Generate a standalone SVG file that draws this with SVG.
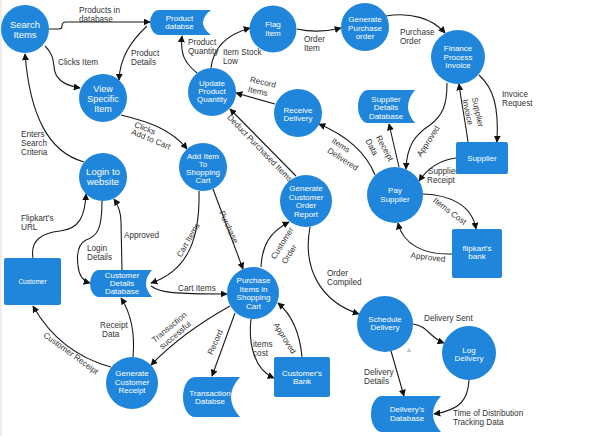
<svg xmlns="http://www.w3.org/2000/svg" width="596" height="436" viewBox="0 0 596 436">
<defs>
<style>
.n{fill:#1f86dc}
.t{font-family:'Liberation Sans',Arial,sans-serif;fill:#fff;text-anchor:middle;font-size:8px}
.l{font-family:'Liberation Sans',Arial,sans-serif;fill:#333;font-size:8.2px}
.c{text-anchor:middle}
.e{fill:none;stroke:#1a1a1a;stroke-width:1.1;marker-end:url(#a)}
</style>
<marker id="a" viewBox="0 0 10 10" refX="9" refY="5" markerWidth="7" markerHeight="7" markerUnits="userSpaceOnUse" orient="auto"><path d="M0,0 L10,5 L0,10 z" fill="#111"/></marker>
</defs>
<rect width="596" height="436" fill="#fff"/>
<line x1="1" y1="0" x2="1" y2="436" stroke="#dcdcdc"/>

<g id="connectors">
<path class="e" d="M49,29 L59,29 Q62,29 62,26 Q62,22 66,22 L150,22"/>
<path class="e" d="M147,26 C130,42 120,58 119,80"/>
<path class="e" d="M45,46 C55,55 53,65 55,72 C58,82 68,86 80,88"/>
<path class="e" d="M84,162 C48,152 30,115 25,54"/>
<path class="e" d="M121,115 C150,122 172,130 187,149"/>
<path class="e" d="M197,73 C185,63 180,55 182,36"/>
<path class="e" d="M211,68 C213,50 225,35 250,28"/>
<path class="e" d="M297,29 C310,32 325,32 341,28"/>
<path class="e" d="M386,16 C410,12 432,18 445,33"/>
<path class="e" d="M447,83 C447,105 443,115 430,125 C415,135 407,145 406,169"/>
<path class="e" d="M468,142 C465,120 461,100 459,84"/>
<path class="e" d="M479,75 C493,88 499,105 497,142"/>
<path class="e" d="M456,158 C440,160 428,168 419,181"/>
<path class="e" d="M423,194 C450,195 472,205 476,229"/>
<path class="e" d="M452,254 C425,255 403,245 398,223"/>
<path class="e" d="M399,167 L389,124"/>
<path class="e" d="M375,175 C365,150 345,135 319,124"/>
<path class="e" d="M275,104 L236,93"/>
<path class="e" d="M296,176 L230,109"/>
<path class="e" d="M199,191 C200,235 190,270 151,283"/>
<path class="e" d="M213,189 L243,269"/>
<path class="e" d="M151,286 C160,293 175,294 227,294"/>
<path class="e" d="M33,258 C30,240 42,233 60,231 C80,229 85,215 86,194"/>
<path class="e" d="M102,201 C102,228 98,236 86,240 C76,245 77,258 78,266 C79,276 83,281 90,283"/>
<path class="e" d="M122,270 L121,222 C121,212 118,205 114,199"/>
<path class="e" d="M261,267 C262,245 270,232 289,222"/>
<path class="e" d="M230,306 C205,320 175,340 151,365"/>
<path class="e" d="M235,313 L212,376"/>
<path class="e" d="M251,319 C248,345 255,370 274,378"/>
<path class="e" d="M302,357 C300,335 292,315 278,303"/>
<path class="e" d="M133,357 C135,335 132,315 121,298"/>
<path class="e" d="M111,367 C85,360 55,345 33,306"/>
<path class="e" d="M310,227 C302,270 322,302 359,314"/>
<path class="e" d="M413,324 C428,326 430,338 444,343"/>
<path class="e" d="M391,351 L404,396"/>
<path class="e" d="M469,380 C468,400 460,410 434,414"/>
</g>

<g id="edge-labels">
<text class="l" x="79" y="12.5">Products in</text>
<text class="l" x="79" y="21.5">database</text>
<text class="l" x="131" y="56">Product</text>
<text class="l" x="131" y="65">Details</text>
<text class="l" x="58" y="65">Clicks Item</text>
<text class="l" x="21" y="136.5">Enters</text>
<text class="l" x="21" y="145.5">Search</text>
<text class="l" x="21" y="154.5">Criteria</text>
<text class="l c" transform="translate(145,128) rotate(22)" dy="3">Clicks</text>
<text class="l c" transform="translate(151,139) rotate(22)" dy="3">Add to Cart</text>
<text class="l" x="188" y="44.5">Product</text>
<text class="l" x="188" y="53.5">Quantity</text>
<text class="l" x="223" y="54.5">Item  Stock</text>
<text class="l" x="223" y="63.5">Low</text>
<text class="l" x="304" y="41.5">Order</text>
<text class="l" x="304" y="50.5">Item</text>
<text class="l" x="400" y="34.5">Purchase</text>
<text class="l" x="400" y="43.5">Order</text>
<text class="l c" transform="translate(428,141) rotate(-57)" dy="3">Approved</text>
<text class="l c" transform="translate(478,112) rotate(77)" dy="3">Supplier</text>
<text class="l c" transform="translate(468,112) rotate(77)" dy="3">Invoice</text>
<text class="l" x="502" y="96.5">Invoice</text>
<text class="l" x="502" y="105.5">Request</text>
<text class="l" x="428" y="173.5">Supplier</text>
<text class="l" x="427" y="182.5">Receipt</text>
<text class="l c" transform="translate(450,211) rotate(37)" dy="3">Items Cost</text>
<text class="l c" transform="translate(428,257) rotate(7)" dy="3">Approved</text>
<text class="l c" transform="translate(385,148) rotate(62)" dy="3">Receipt</text>
<text class="l c" transform="translate(372,147) rotate(62)" dy="3">Data</text>
<text class="l c" transform="translate(341,145) rotate(33)" dy="3">Items</text>
<text class="l c" transform="translate(343,159) rotate(33)" dy="3">Delivered</text>
<text class="l c" transform="translate(263,82) rotate(13)" dy="3">Record</text>
<text class="l c" transform="translate(258,91) rotate(13)" dy="3">Items</text>
<text class="l c" transform="translate(260,148) rotate(46)" dy="3">Deduct Purchased Items</text>
<text class="l c" transform="translate(188,240) rotate(-60)" dy="3">Cart Items</text>
<text class="l c" transform="translate(229,227) rotate(65)" dy="3">Purchase</text>
<text class="l" x="178" y="291">Cart Items</text>
<text class="l" x="21" y="221">Flipkart's</text>
<text class="l" x="21" y="230">URL</text>
<text class="l" x="87" y="251">Login</text>
<text class="l" x="87" y="260">Details</text>
<text class="l" x="124" y="238">Approved</text>
<text class="l c" transform="translate(282,243) rotate(-58)" dy="3">Customer</text>
<text class="l c" transform="translate(289,254) rotate(-58)" dy="3">Order</text>
<text class="l c" transform="translate(169,327) rotate(-40)" dy="3">Transaction</text>
<text class="l c" transform="translate(175,335) rotate(-40)" dy="3">successful</text>
<text class="l c" transform="translate(215,342) rotate(-65)" dy="3">Record</text>
<text class="l" x="253" y="347">items</text>
<text class="l" x="253" y="356">cost</text>
<text class="l c" transform="translate(285,338) rotate(58)" dy="3">Approved</text>
<text class="l" x="100" y="328">Receipt</text>
<text class="l" x="102" y="337">Data</text>
<text class="l c" transform="translate(71,353) rotate(36)" dy="3">Customer Receipt</text>
<text class="l" x="327" y="276">Order</text>
<text class="l" x="327" y="285">Compiled</text>
<text class="l" x="424" y="321">Delivery  Sent</text>
<text class="l" x="364" y="375">Delivery</text>
<text class="l" x="364" y="384">Details</text>
<text class="l" x="453" y="416">Time of Distribution</text>
<text class="l" x="453" y="425">Tracking Data</text>
</g>

<g id="search-items"><circle class="n" cx="25" cy="29" r="24"/><text class="t" style="font-size:9.5px" x="25" y="28">Search</text><text class="t" style="font-size:9.5px" x="25" y="37.5">Items</text></g>
<g id="view-specific-item"><circle class="n" cx="103" cy="98" r="24"/><text class="t" style="font-size:9px" x="103" y="92">View</text><text class="t" style="font-size:9px" x="103" y="102">Specific</text><text class="t" style="font-size:9px" x="103" y="112">Item</text></g>
<g id="product-databse"><path class="n" d="M159,10 H211 Q195,22.5 211,35 H159 A9,12.5 0 0 1 159,10 Z"/><text class="t" x="179.5" y="21">Product</text><text class="t" x="179.5" y="29">databse</text></g>
<g id="flag-item"><circle class="n" cx="273" cy="29" r="23.5"/><text class="t" x="273" y="27">Flag</text><text class="t" x="273" y="36">Item</text></g>
<g id="generate-purchase-order"><circle class="n" cx="365" cy="27" r="24"/><text class="t" x="365" y="22">Generate</text><text class="t" x="365" y="30.5">Purchase</text><text class="t" x="365" y="39">order</text></g>
<g id="finance-process-invoice"><circle class="n" cx="458" cy="57" r="27"/><text class="t" x="458" y="51">Finance</text><text class="t" x="458" y="59.5">Process</text><text class="t" x="458" y="68">Invoice</text></g>
<g id="update-product-quantity"><circle class="n" cx="212" cy="92" r="24"/><text class="t" x="212" y="86">Update</text><text class="t" x="212" y="94">Product</text><text class="t" x="212" y="102">Quantity</text></g>
<g id="receive-delivery"><circle class="n" cx="298" cy="113" r="24"/><text class="t" x="298" y="113">Receive</text><text class="t" x="298" y="121">Delivery</text></g>
<g id="supplier-details-database"><path class="n" d="M368,90 H415 Q401,106.5 415,123 H368 A10,16.5 0 0 1 368,90 Z"/><text class="t" x="386" y="101.5">Supplier</text><text class="t" x="386" y="110">Details</text><text class="t" x="386" y="118.5">Database</text></g>
<g id="supplier"><rect class="n" x="456" y="142" width="52" height="32" rx="2"/><text class="t" x="482" y="160.5">Supplier</text></g>
<g id="pay-supplier"><circle class="n" cx="395" cy="195" r="28"/><text class="t" x="395" y="193">Pay</text><text class="t" x="395" y="201.5">Supplier</text></g>
<g id="flipkarts-bank"><rect class="n" x="452" y="229" width="50" height="49" rx="2"/><text class="t" x="477" y="251">flipkart's</text><text class="t" x="477" y="259">bank</text></g>
<g id="add-item-to-shopping-cart"><circle class="n" cx="203" cy="167" r="24"/><text class="t" x="203" y="158.5">Add Item</text><text class="t" x="203" y="166.5">To</text><text class="t" x="203" y="174.5">Shopping</text><text class="t" x="203" y="182.5">Cart</text></g>
<g id="generate-customer-order-report"><circle class="n" cx="306" cy="201" r="26"/><text class="t" x="306" y="191">Generate</text><text class="t" x="306" y="199.5">Customer</text><text class="t" x="306" y="208">Order</text><text class="t" x="306" y="216.5">Report</text></g>
<g id="login-to-website"><circle class="n" cx="103" cy="177" r="24"/><text class="t" style="font-size:9.5px" x="103" y="175">Login to</text><text class="t" style="font-size:9.5px" x="103" y="185">website</text></g>
<g id="customer"><rect class="n" x="4" y="258" width="57" height="47" rx="2"/><text class="t" style="font-size:6.5px" x="32.5" y="283.5">Customer</text></g>
<g id="customer-details-database"><path class="n" d="M99,270 H152 Q140,283.5 152,297 H99 A9,13.5 0 0 1 99,270 Z"/><text class="t" x="122" y="278">Customer</text><text class="t" x="122" y="286">Details</text><text class="t" x="122" y="294">Database</text></g>
<g id="purchase-items-in-shopping-cart"><circle class="n" cx="253" cy="293" r="26"/><text class="t" x="253.5" y="283">Purchase</text><text class="t" x="253.5" y="291.5">Items in</text><text class="t" x="253.5" y="300">Shopping</text><text class="t" x="253.5" y="308.5">Cart</text></g>
<g id="generate-customer-receipt"><circle class="n" cx="132" cy="383" r="26"/><text class="t" x="132" y="376">Generate</text><text class="t" x="132" y="384.5">Customer</text><text class="t" x="132" y="393">Receipt</text></g>
<g id="transaction-databse"><path class="n" d="M195,377 H240 Q222,397 240,417 H195 A12,20 0 0 1 195,377 Z"/><text class="t" x="210" y="396">Transaction</text><text class="t" x="210" y="404">Databse</text></g>
<g id="customers-bank"><rect class="n" x="274" y="357" width="56" height="40" rx="2"/><text class="t" x="302" y="376">Customer's</text><text class="t" x="302" y="384">Bank</text></g>
<g id="schedule-delivery"><circle class="n" cx="385" cy="324" r="28"/><text class="t" x="385" y="322">Schedule</text><text class="t" x="385" y="330">Delivery</text></g>
<g id="log-delivery"><circle class="n" cx="469" cy="353" r="27"/><text class="t" x="469" y="353">Log</text><text class="t" x="469" y="361">Delivery</text></g>
<g id="deliverys-database"><path class="n" d="M382,396 H441 Q425,414 441,432 H382 A11,18 0 0 1 382,396 Z"/><text class="t" x="407" y="412">Delivery's</text><text class="t" x="407" y="420.5">Database</text></g>
<polygon points="406.5,352 409,348 411.5,352" fill="#c4c4c4"/>
</svg>
